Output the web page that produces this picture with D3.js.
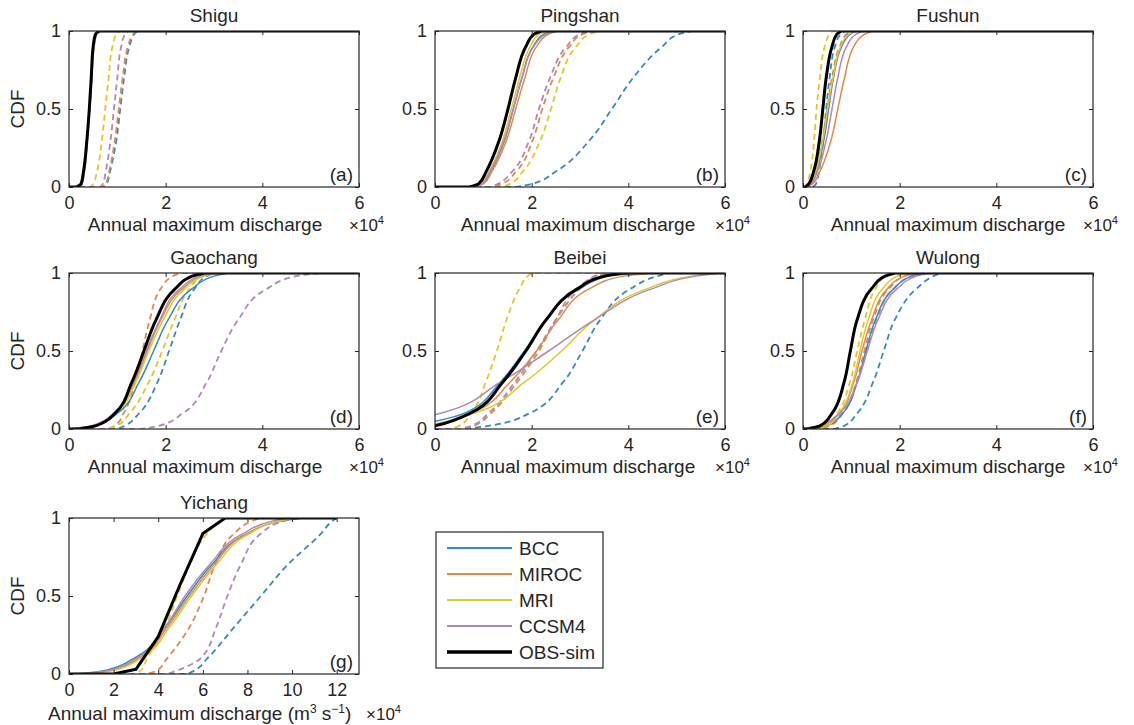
<!DOCTYPE html>
<html>
<head>
<meta charset="utf-8">
<script src="https://cdn.jsdelivr.net/npm/d3@7"></script>
<style>
body { margin: 0; background: #fff; }
svg text { font-family: "Liberation Sans", Arial, Helvetica, sans-serif; fill: #262626; }
</style>
</head>
<body>
<div id="graphicContainer"></div>
<script>

// CDF levels at which the x positions (x 10^4 m3/s) of each curve were read
var levels = [0, 0.02, 0.1, 0.3, 0.5, 0.7, 0.9, 0.98, 1]

var models = ["BCC", "MIROC", "MRI", "CCSM4"]
var modelColors = ["#3589c4", "#de8a4c", "#e2c62a", "#b088b5"]
var stations = ["Shigu", "Pingshan", "Fushun", "Gaochang", "Beibei", "Wulong", "Yichang"]
var panelLetters = ["(a)", "(b)", "(c)", "(d)", "(e)", "(f)", "(g)"]
var xMaxes = [6, 6, 6, 6, 6, 6, 13]
var xEnds = [6, 6, 6, 6, 6, 6, 12]
var ticksSix = [0, 2, 4, 6]
var ticksThirteen = [0, 2, 4, 6, 8, 10, 12]
var yTicks = [0, 0.5, 1]

// order inside solid / dashed: BCC, MIROC, MRI, CCSM4
var shiguObs = [0.15, 0.25, 0.3, 0.37, 0.42, 0.46, 0.5, 0.55, 0.62]
var shiguSolid = [
	[0.18, 0.27, 0.32, 0.38, 0.43, 0.47, 0.52, 0.57, 0.65],
	[0.17, 0.26, 0.31, 0.37, 0.42, 0.47, 0.51, 0.56, 0.63],
	[0.18, 0.27, 0.32, 0.38, 0.43, 0.47, 0.52, 0.57, 0.64],
	[0.17, 0.26, 0.31, 0.37, 0.43, 0.47, 0.51, 0.56, 0.63]
]
var shiguDashed = [
	[0.72, 0.78, 0.85, 0.98, 1.06, 1.14, 1.25, 1.35, 1.42],
	[0.7, 0.76, 0.83, 0.95, 1.03, 1.11, 1.22, 1.33, 1.4],
	[0.45, 0.5, 0.58, 0.68, 0.75, 0.82, 0.9, 0.98, 1.05],
	[0.65, 0.7, 0.76, 0.86, 0.93, 1.0, 1.08, 1.16, 1.22]
]

var pingshanObs = [0.7, 0.9, 1.06, 1.33, 1.51, 1.67, 1.88, 2.05, 2.2]
var pingshanSolid = [
	[0.78, 0.98, 1.15, 1.44, 1.62, 1.8, 2.03, 2.25, 2.45],
	[0.8, 1.0, 1.18, 1.48, 1.67, 1.86, 2.1, 2.35, 2.55],
	[0.75, 0.95, 1.12, 1.4, 1.58, 1.75, 1.97, 2.15, 2.35],
	[0.78, 0.97, 1.14, 1.43, 1.62, 1.8, 2.04, 2.3, 2.5]
]
var pingshanDashed = [
	[1.7, 2.0, 2.5, 3.2, 3.66, 4.1, 4.7, 5.05, 5.3],
	[1.2, 1.38, 1.68, 2.02, 2.22, 2.45, 2.78, 3.05, 3.3],
	[1.4, 1.55, 1.82, 2.18, 2.4, 2.6, 2.92, 3.2, 3.45],
	[1.15, 1.3, 1.6, 1.95, 2.15, 2.38, 2.72, 3.0, 3.2]
]

var fushunObs = [0.05, 0.12, 0.22, 0.34, 0.41, 0.48, 0.6, 0.7, 0.8]
var fushunSolid = [
	[0.06, 0.15, 0.27, 0.43, 0.53, 0.63, 0.8, 0.98, 1.1],
	[0.08, 0.2, 0.35, 0.58, 0.72, 0.86, 1.05, 1.28, 1.45],
	[0.06, 0.15, 0.26, 0.41, 0.51, 0.62, 0.78, 0.95, 1.08],
	[0.07, 0.17, 0.3, 0.48, 0.6, 0.72, 0.9, 1.1, 1.25]
]
var fushunDashed = [
	[0.2, 0.27, 0.33, 0.42, 0.48, 0.55, 0.66, 0.78, 0.88],
	[0.08, 0.16, 0.26, 0.4, 0.5, 0.6, 0.76, 0.9, 1.0],
	[0.02, 0.08, 0.15, 0.23, 0.28, 0.35, 0.45, 0.55, 0.62],
	[0.1, 0.18, 0.28, 0.42, 0.52, 0.62, 0.78, 0.92, 1.02]
]

var gaochangObs = [0.2, 0.55, 0.95, 1.3, 1.55, 1.8, 2.2, 2.55, 2.8]
var gaochangSolid = [
	[0.0, 0.55, 1.0, 1.45, 1.75, 2.05, 2.55, 3.0, 3.3],
	[0.0, 0.5, 0.95, 1.35, 1.62, 1.9, 2.35, 2.75, 3.0],
	[0.0, 0.5, 0.97, 1.38, 1.65, 1.95, 2.4, 2.8, 3.1],
	[0.0, 0.45, 0.92, 1.33, 1.6, 1.88, 2.3, 2.7, 3.0]
]
var gaochangDashed = [
	[1.0, 1.15, 1.45, 1.83, 2.07, 2.3, 2.6, 2.85, 3.0],
	[0.8, 0.95, 1.13, 1.37, 1.52, 1.67, 1.9, 2.15, 2.3],
	[0.8, 0.98, 1.25, 1.65, 1.93, 2.18, 2.5, 2.75, 2.9],
	[1.5, 1.85, 2.35, 2.85, 3.15, 3.5, 4.1, 4.7, 5.2]
]

var beibeiObs = [-0.3, 0.0, 0.72, 1.4, 1.88, 2.3, 2.95, 3.5, 3.9]
var beibeiSolid = [
	[-0.9, -0.5, 0.6, 1.35, 1.85, 2.3, 3.0, 3.6, 4.2],
	[-0.5, -0.1, 0.75, 1.55, 2.1, 2.55, 3.2, 3.9, 4.5],
	[-0.6, -0.2, 0.8, 1.85, 2.62, 3.3, 4.4, 5.3, 5.8],
	[-1.6, -1.1, 0.1, 1.35, 2.35, 3.3, 4.5, 5.4, 5.9]
]
var beibeiDashed = [
	[0.6, 1.1, 1.95, 2.65, 3.05, 3.42, 4.05, 4.6, 4.85],
	[0.55, 0.8, 1.15, 1.7, 2.15, 2.5, 2.95, 3.35, 3.6],
	[0.3, 0.5, 0.75, 1.05, 1.28, 1.48, 1.75, 1.92, 2.0],
	[0.5, 0.75, 1.1, 1.65, 2.1, 2.5, 3.0, 3.3, 3.5]
]

var wulongObs = [0.1, 0.35, 0.6, 0.85, 0.98, 1.12, 1.42, 1.7, 1.9]
var wulongSolid = [
	[0.2, 0.5, 0.82, 1.12, 1.3, 1.5, 1.88, 2.25, 2.5],
	[0.0, 0.4, 0.75, 1.05, 1.22, 1.42, 1.75, 2.1, 2.35],
	[0.3, 0.5, 0.75, 1.03, 1.18, 1.35, 1.65, 1.95, 2.2],
	[-0.1, 0.3, 0.75, 1.12, 1.33, 1.55, 1.95, 2.35, 2.6]
]
var wulongDashed = [
	[0.65, 0.85, 1.12, 1.45, 1.67, 1.9, 2.35, 2.7, 2.85],
	[0.35, 0.55, 0.82, 1.1, 1.27, 1.45, 1.78, 2.1, 2.3],
	[0.3, 0.45, 0.7, 0.97, 1.12, 1.28, 1.5, 1.7, 1.8],
	[0.3, 0.5, 0.8, 1.12, 1.32, 1.52, 1.88, 2.25, 2.45]
]

// Yichang observed curve is a polyline
var yichangObsX = [0, 1, 2, 3, 4, 5, 6, 7, 12]
var yichangObsP = [0, 0, 0, 0.03, 0.24, 0.58, 0.9, 1, 1]
var yichangSolid = [
	[0.3, 1.5, 2.9, 4.3, 5.3, 6.4, 8.0, 9.5, 10.5],
	[0.5, 1.8, 3.1, 4.4, 5.4, 6.5, 8.0, 9.4, 10.2],
	[0.5, 1.9, 3.2, 4.5, 5.5, 6.6, 8.1, 9.4, 10.2],
	[0.4, 1.7, 3.0, 4.3, 5.2, 6.3, 7.8, 9.1, 9.8]
]
var yichangDashed = [
	[5.3, 5.6, 6.2, 7.4, 8.6, 9.8, 11.3, 11.8, 12.0],
	[3.5, 3.9, 4.4, 5.4, 6.05, 6.55, 7.4, 8.2, 8.6],
	[2.9, 3.2, 3.5, 4.3, 4.85, 5.4, 6.2, 6.8, 7.1],
	[4.4, 4.8, 5.9, 6.6, 7.1, 7.7, 8.6, 9.6, 10.1]
]

var obsSeries = [shiguObs, pingshanObs, fushunObs, gaochangObs, beibeiObs, wulongObs, null]
var solidSeries = [shiguSolid, pingshanSolid, fushunSolid, gaochangSolid, beibeiSolid, wulongSolid, yichangSolid]
var dashedSeries = [shiguDashed, pingshanDashed, fushunDashed, gaochangDashed, beibeiDashed, wulongDashed, yichangDashed]

var colLeft = [69, 435, 803]
var rowTop = [31, 273, 518]
var pw = 290
var ph = 156
var labelShift = [-9, -2, 0]
var fontSize = 19
var tickFont = 18
var ink = "#262626"

var svg = d3.select("#graphicContainer").append("svg")
	.attr("width", 1134)
	.attr("height", 725)

var defs = svg.append("defs")

stations.forEach(function (name, i) {

	var col = i % 3
	var row = Math.floor(i / 3)
	var left = colLeft[col]
	var top = rowTop[row]

	var x = d3.scaleLinear().domain([0, xMaxes[i]]).range([0, pw])
	var y = d3.scaleLinear().domain([0, 1]).range([ph, 0])

	var g = svg.append("g").attr("transform", "translate(" + left + "," + top + ")")

	defs.append("clipPath").attr("id", "clip" + i)
		.append("rect").attr("width", pw).attr("height", ph)

	var plot = g.append("g").attr("clip-path", "url(#clip" + i + ")")

	var line = d3.line()
		.x(d => x(d[0]))
		.y(d => y(d[1]))
		.curve(d3.curveMonotoneY)

	function cdfPath(xs) {
		var pts = levels.map((l, k) => [xs[k], l])
		var body = line(pts)
		return "M" + x(Math.min(0, xs[0])) + "," + y(0) + "L" + body.slice(1) + "L" + x(xEnds[i]) + "," + y(1)
	}

	dashedSeries[i].forEach(function (xs, m) {
		plot.append("path")
			.attr("d", cdfPath(xs))
			.attr("fill", "none")
			.attr("stroke", modelColors[m])
			.attr("stroke-width", 1.8)
			.attr("stroke-dasharray", "6,4")
	})

	solidSeries[i].forEach(function (xs, m) {
		plot.append("path")
			.attr("d", cdfPath(xs))
			.attr("fill", "none")
			.attr("stroke", modelColors[m])
			.attr("stroke-width", 1.5)
	})

	if (obsSeries[i]) {
		plot.append("path")
			.attr("d", cdfPath(obsSeries[i]))
			.attr("fill", "none")
			.attr("stroke", "#000")
			.attr("stroke-width", 3)
	} else {
		var poly = yichangObsX.map((v, k) => [v, yichangObsP[k]])
		plot.append("path")
			.attr("d", d3.line().x(d => x(d[0])).y(d => y(d[1]))(poly))
			.attr("fill", "none")
			.attr("stroke", "#000")
			.attr("stroke-width", 3)
			.attr("stroke-linejoin", "round")
	}

	var xt = xMaxes[i] > 6 ? ticksThirteen : ticksSix

	var axes = [
		g.append("g").attr("transform", "translate(0," + ph + ")")
			.call(d3.axisBottom(x).tickValues(xt).tickSizeInner(-4).tickSizeOuter(0).tickPadding(9).tickFormat(d => String(d))),
		g.append("g")
			.call(d3.axisTop(x).tickValues(xt).tickSizeInner(-4).tickSizeOuter(0).tickFormat("")),
		g.append("g")
			.call(d3.axisLeft(y).tickValues(yTicks).tickSizeInner(-4).tickSizeOuter(0).tickPadding(8).tickFormat(d => String(d))),
		g.append("g").attr("transform", "translate(" + pw + ",0)")
			.call(d3.axisRight(y).tickValues(yTicks).tickSizeInner(-4).tickSizeOuter(0).tickFormat(""))
	]

	axes.forEach(function (a) {
		a.attr("font-size", tickFont).attr("font-family", null)
		a.select(".domain").remove()
		a.selectAll(".tick line").attr("stroke", ink)
		a.selectAll(".tick text").attr("fill", ink)
	})

	g.append("rect")
		.attr("width", pw)
		.attr("height", ph)
		.attr("fill", "none")
		.attr("stroke", ink)
		.attr("stroke-width", 1.2)

	g.append("text")
		.attr("x", pw / 2)
		.attr("y", -9)
		.attr("text-anchor", "middle")
		.attr("font-size", fontSize)
		.text(name)

	g.append("text")
		.attr("x", pw - 6)
		.attr("y", ph - 6)
		.attr("text-anchor", "end")
		.attr("font-size", fontSize)
		.text(panelLetters[i])

	if (col === 0) {
		g.append("text")
			.attr("transform", "translate(" + (17 - left) + "," + (ph / 2) + ")rotate(-90)")
			.attr("text-anchor", "middle")
			.attr("dy", "0.35em")
			.attr("font-size", fontSize)
			.text("CDF")
	}

	if (i < 6) {
		g.append("text")
			.attr("x", pw / 2 + labelShift[col])
			.attr("y", ph + 44)
			.attr("text-anchor", "middle")
			.attr("font-size", fontSize)
			.text("Annual maximum discharge")

		var ex = g.append("text")
			.attr("x", pw - 10)
			.attr("y", ph + 44)
			.attr("font-size", 17)
		ex.append("tspan").text("×10")
		ex.append("tspan").attr("font-size", 11).attr("dy", -7).text("4")
	} else {
		var lab = g.append("text")
			.attr("x", 48 - left)
			.attr("y", ph + 46)
			.attr("font-size", fontSize)
		lab.append("tspan").text("Annual maximum discharge (m")
		lab.append("tspan").attr("font-size", 12).attr("dy", -7).text("3")
		lab.append("tspan").attr("dy", 7).text(" s")
		lab.append("tspan").attr("font-size", 12).attr("dy", -7).text("−1")
		lab.append("tspan").attr("dy", 7).text(")")

		var ex2 = g.append("text")
			.attr("x", pw + 7)
			.attr("y", ph + 46)
			.attr("font-size", 17)
		ex2.append("tspan").text("×10")
		ex2.append("tspan").attr("font-size", 11).attr("dy", -7).text("4")
	}
})

// legend
var legendLabels = models.concat(["OBS-sim"])
var legendColors = modelColors.concat(["#000"])

var legend = svg.append("g").attr("transform", "translate(436,532)")

var legendBox = legend.append("rect")
	.attr("fill", "#fff")
	.attr("stroke", ink)
	.attr("stroke-width", 1.2)

legendLabels.forEach(function (lab, k) {
	var ly = 16 + k * 26
	legend.append("line")
		.attr("x1", 11).attr("x2", 76)
		.attr("y1", ly).attr("y2", ly)
		.attr("stroke", legendColors[k])
		.attr("stroke-width", k === 4 ? 3.5 : 2)
	legend.append("text")
		.attr("x", 83)
		.attr("y", ly)
		.attr("dy", "0.35em")
		.attr("font-size", fontSize)
		.text(lab)
})

var lb = legend.node().getBBox()
legendBox.attr("width", lb.width + lb.x + 8).attr("height", 136)

</script>
</body>
</html>
